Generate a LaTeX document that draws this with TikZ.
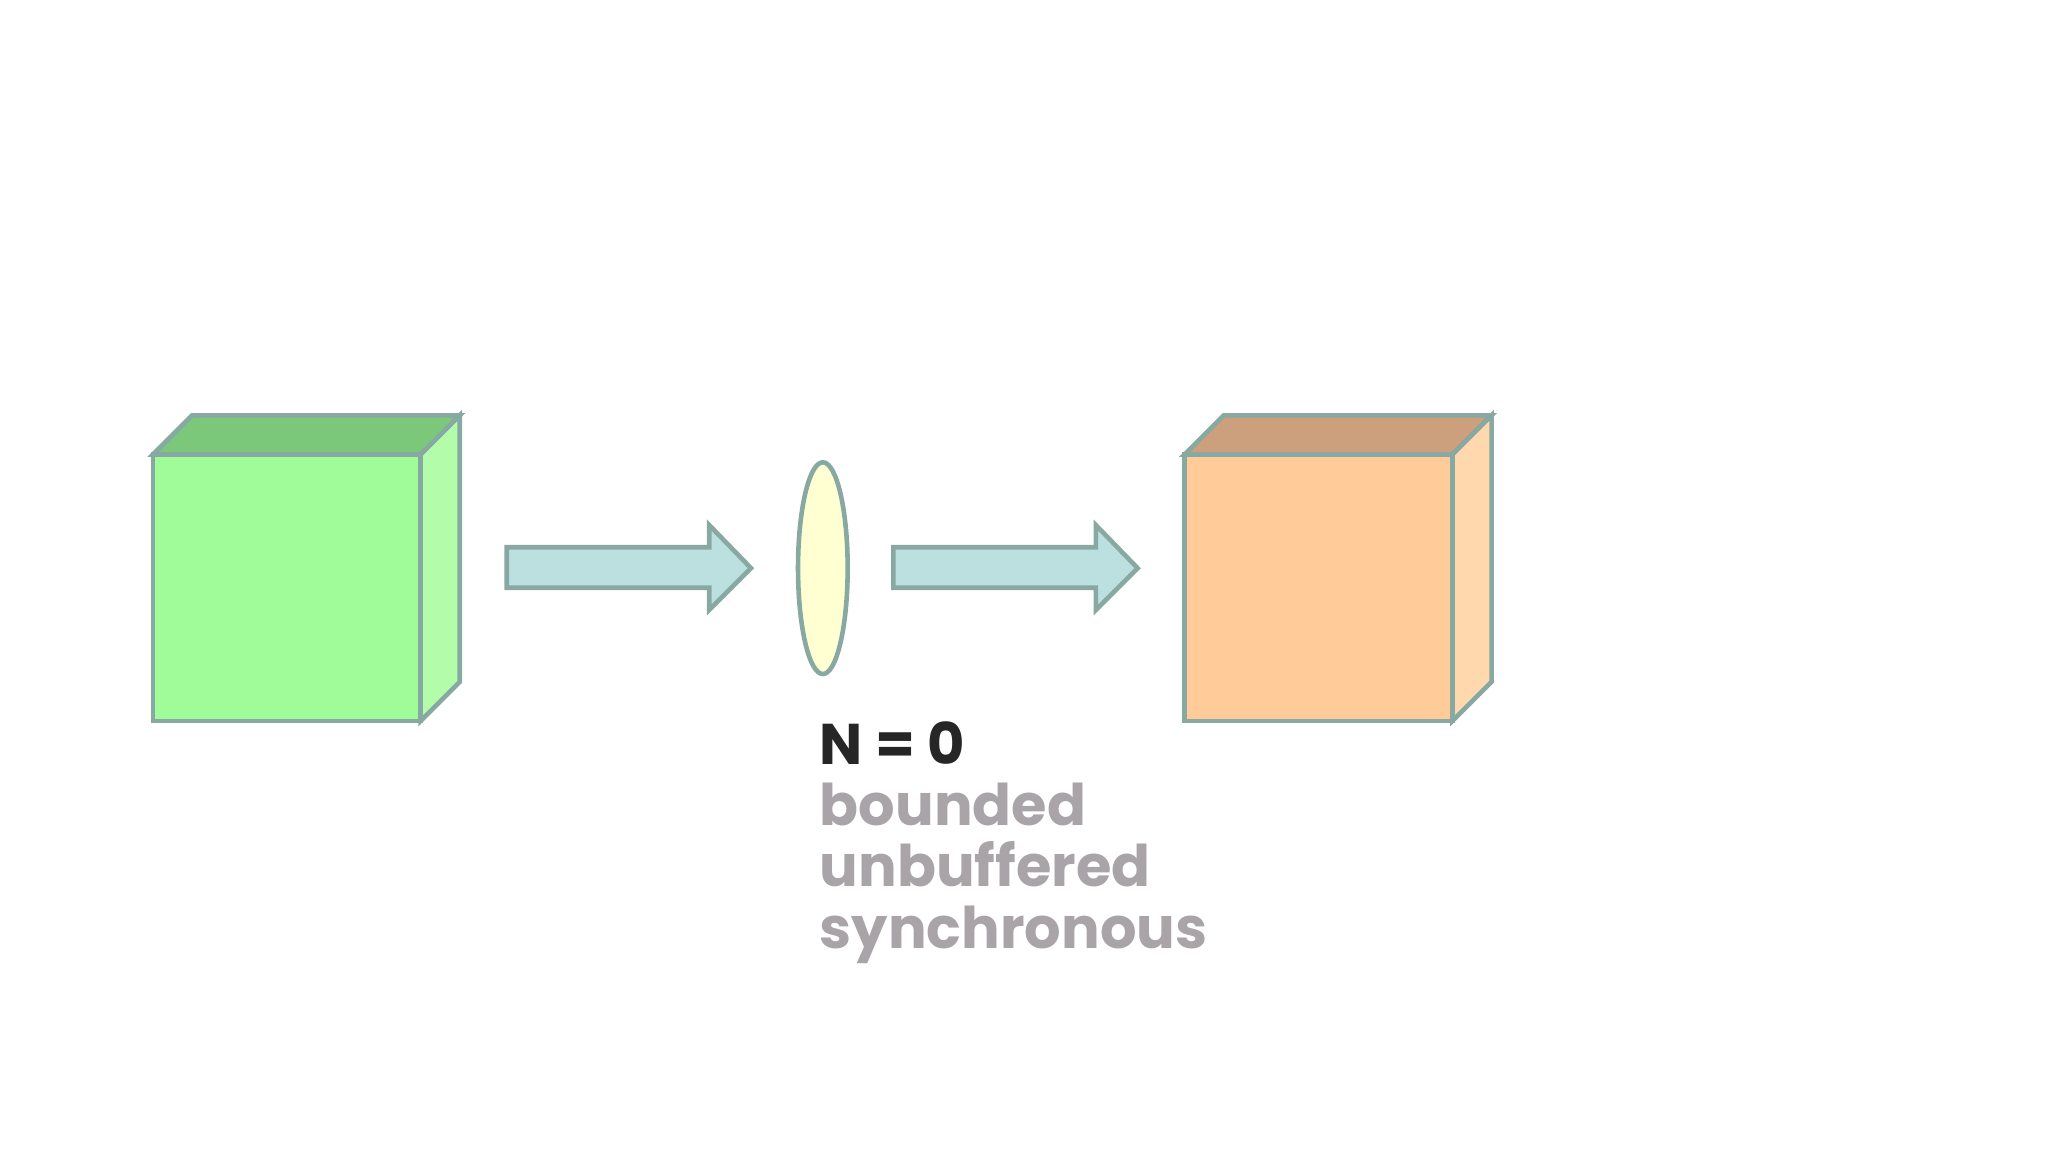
\documentclass[tikz,border=0pt]{standalone}
\usetikzlibrary{shapes.geometric}
\usepackage{fontspec}
\setmainfont{Poppins}
\definecolor{edge}{HTML}{88A8A2}
\definecolor{gfront}{HTML}{A0FC98}
\definecolor{gtop}{HTML}{7BC87A}
\definecolor{gside}{HTML}{B2FCAA}
\definecolor{ofront}{HTML}{FFCC99}
\definecolor{otop}{HTML}{CCA07C}
\definecolor{oside}{HTML}{FFD8AE}
\definecolor{arr}{HTML}{BCE0E0}
\definecolor{ell}{HTML}{FFFFD2}
\definecolor{txtg}{HTML}{A8A4A8}
\begin{document}
\begin{tikzpicture}[x=0.01cm,y=-0.01cm,
  face/.style={draw=edge,line width=1pt,line join=miter},
  lbl/.style={anchor=base west,inner sep=0pt,font=\bfseries\fontsize{12.5}{13}\selectfont}]
\useasboundingbox (0,0) rectangle (1568,882);
% green cube
\filldraw[face,fill=gtop] (117,348)--(147,318)--(352,318)--(322,348)--cycle;
\filldraw[face,fill=gside] (322,348)--(352,318)--(352,522)--(322,552)--cycle;
\filldraw[face,fill=gfront] (117,348) rectangle (322,552);
% orange cube
\filldraw[face,fill=otop] (907,348)--(937,318)--(1142,318)--(1112,348)--cycle;
\filldraw[face,fill=oside] (1112,348)--(1142,318)--(1142,522)--(1112,552)--cycle;
\filldraw[face,fill=ofront] (907,348) rectangle (1112,552);
% arrows
\filldraw[face,fill=arr] (388,419)--(543,419)--(543,402)--(575,435)--(543,467)--(543,450)--(388,450)--cycle;
\filldraw[face,fill=arr] (684,419)--(839,419)--(839,402)--(871,435)--(839,467)--(839,450)--(684,450)--cycle;
% channel
\node[face,fill=ell,ellipse,minimum width=0.38cm,minimum height=1.62cm,inner sep=0pt] (ch) at (630,435) {};
% text
\node[lbl,text=black!85] (n) at (627,585) {N = 0};
\node[lbl,text=txtg] (b) at (627,632) {bounded};
\node[lbl,text=txtg] (u) at (627,679) {unbuffered};
\node[lbl,text=txtg] (s) at (627,726) {synchronous};
\end{tikzpicture}
\end{document}
